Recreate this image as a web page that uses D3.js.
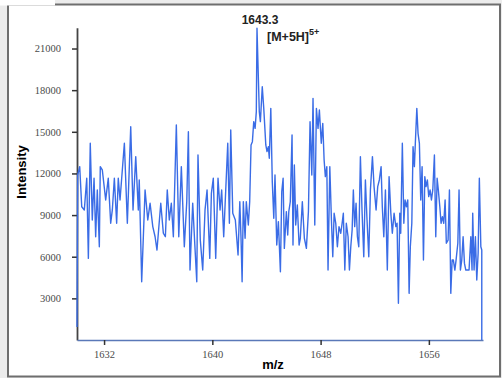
<!DOCTYPE html>
<html>
<head>
<meta charset="utf-8">
<script src="https://cdn.jsdelivr.net/npm/d3@7"></script>
<style>
  html, body { margin: 0; padding: 0; background: #ececec; }
  svg { display: block; }
</style>
</head>
<body>
<div id="chart"></div>
<script>
// m/z positions and intensities
const mz = [
  1630.00, 1630.05, 1630.20, 1630.35, 1630.54, 1630.72, 1630.84, 1630.98, 1631.13, 1631.26,
  1631.38, 1631.50, 1631.65, 1631.72, 1631.87, 1632.12, 1632.31, 1632.49, 1632.61, 1632.76,
  1632.93, 1633.05, 1633.18, 1633.50, 1633.72, 1633.97, 1634.14, 1634.34, 1634.53, 1634.60,
  1634.78, 1635.03, 1635.23, 1635.40, 1635.60, 1635.77, 1635.91, 1636.19, 1636.38, 1636.53,
  1636.67, 1636.82, 1636.97, 1637.12, 1637.34, 1637.52, 1637.71, 1637.93, 1638.11, 1638.23,
  1638.35, 1638.55, 1638.70, 1638.85, 1638.94, 1639.11, 1639.29, 1639.46, 1639.61, 1639.81,
  1639.93, 1640.07, 1640.25, 1640.42, 1640.57, 1640.69, 1640.84, 1640.99, 1641.14, 1641.26,
  1641.36, 1641.51, 1641.70, 1641.90, 1642.03, 1642.12, 1642.20, 1642.29, 1642.42, 1642.51,
  1642.66, 1642.76, 1642.86, 1642.96, 1643.06, 1643.16, 1643.25, 1643.30, 1643.47, 1643.55,
  1643.69, 1643.80, 1643.95, 1644.04, 1644.14, 1644.21, 1644.32, 1644.43, 1644.54, 1644.63,
  1644.76, 1644.88, 1645.03, 1645.13, 1645.23, 1645.32, 1645.47, 1645.57, 1645.65, 1645.76,
  1645.89, 1645.96, 1646.06, 1646.16, 1646.28, 1646.41, 1646.50, 1646.65, 1646.80, 1646.95,
  1647.10, 1647.22, 1647.35, 1647.44, 1647.57, 1647.69, 1647.81, 1647.91, 1648.05, 1648.16,
  1648.26, 1648.35, 1648.46, 1648.55, 1648.68, 1648.80, 1648.90, 1649.00, 1649.12, 1649.24,
  1649.36, 1649.49, 1649.59, 1649.68, 1649.79, 1649.90, 1650.03, 1650.13, 1650.23, 1650.33,
  1650.42, 1650.52, 1650.62, 1650.72, 1650.82, 1650.94, 1651.06, 1651.19, 1651.31, 1651.43,
  1651.56, 1651.68, 1651.83, 1651.95, 1652.10, 1652.22, 1652.34, 1652.47, 1652.56, 1652.67,
  1652.79, 1652.93, 1653.06, 1653.19, 1653.30, 1653.43, 1653.56, 1653.65, 1653.75, 1653.85,
  1653.92, 1654.04, 1654.15, 1654.24, 1654.34, 1654.44, 1654.54, 1654.63, 1654.74, 1654.83,
  1654.93, 1655.00, 1655.11, 1655.20, 1655.30, 1655.40, 1655.50, 1655.60, 1655.70, 1655.79,
  1655.89, 1655.99, 1656.09, 1656.19, 1656.29, 1656.41, 1656.51, 1656.61, 1656.70, 1656.81,
  1656.90, 1657.00, 1657.10, 1657.20, 1657.29, 1657.42, 1657.52, 1657.62, 1657.72, 1657.81,
  1657.92, 1658.01, 1658.14, 1658.23, 1658.33, 1658.43, 1658.53, 1658.63, 1658.73, 1658.85,
  1658.97, 1659.10, 1659.19, 1659.24, 1659.34, 1659.44, 1659.54, 1659.64, 1659.73, 1659.84,
  1659.91, 1659.91
];

const intensity = [
    940, 11890, 12490,  9600,  9370, 11650,  5880, 14170,  8650, 11650,
   7440, 10810,  6720, 12490, 12250, 10090, 11650,  8410,  9370, 11650,
   8410, 11650, 10090, 14170,  8410, 15370,  9370, 13210,  9370, 11530,
   4200, 10810,  8650,  9850,  8170,  7440,  6480,  9850,  7690,  7440,
  10810,  8650,  9850,  7440, 15490,  7440, 12490,  6720,  9960, 15010,
   5040,  9850,  6970,  4200, 13330,  7200,  5040,  9370, 10810,  5880,
  10570, 11650,  5880, 11650,  9370, 10810,  7440, 10810, 14170,  8410,
  15130,  9130,  8650,  6120,  9960,  7330,  4200,  9960,  7330,  9960,
   8290,  9960, 14050, 14290, 15730, 15250, 16450, 22460, 16450, 15730,
  18250, 16690, 14050, 13570, 13930, 13090, 16690, 11410,  8770, 11890,
   6840,  8530,  4920, 10690, 11650,  6600,  9250,  7560,  9250,  9960,
  14770,  6840, 12610,  8290,  9730,  6840,  7330,  9960,  7330,  6600,
   9250, 15730, 11890, 17410,  8290, 16690, 15250, 16570, 14170, 15610,
  12970, 11770, 12490,  5040, 12490,  8650,  6000,  9130,  8410,  6720,
   8170,  7690,  8410,  9130,  5040,  8410,  7440,  5040,  6720,  7930,
  10810,  8170,  9850,  7440,  6720, 13210,  9370,  6000, 11530,  8650,
   6000, 10810, 13210, 11050,  9370, 11050, 11530, 12490,  9600,  7440,
  10810,  5040, 11770,  9130,  7690,  9130,  8170,  8410,  2640,  9130,
   7690, 14170,  8410, 10090,  9600, 10090,  3360,  6720,  8410, 13930,
  12490, 14170, 16690, 14890, 14170, 10090, 12490,  5760, 11770, 11050,
  11530, 10330, 10810, 10090, 10810, 13330,  7440, 11650, 10810,  9600,
   8410,  8890,  8410, 10090,  6970,  7200, 10810,  3360,  5760,  5760,
   5040,  5760,  6970, 10810,  5040,  5760,  7440,  5520,  5040,  5040,
   5040,  7440,  5040,  9130,  5040,  7440,  4320,  6250, 11650,  6720,
   6480,     0
];

const xTicks = [1632, 1640, 1648, 1656];
const yTicks = [3000, 6000, 9000, 12000, 15000, 18000, 21000];
const xDomain = [1630, 1660];
const yDomain = [0, 22500];

const peakLabel = "1643.3";
const ionLabel = "[M+5H]";
const ionCharge = "5+";

const width = 502, height = 378;
const plot = {left: 77, right: 483, top: 27.7, bottom: 340};
const serif = "'Liberation Serif', 'DejaVu Serif', serif";
const sans = "'Liberation Sans', Arial, sans-serif";

const svg = d3.select("#chart")
    .append("svg")
    .attr("width", width)
    .attr("height", height);

// frame
svg.append("rect")
    .attr("x", 8).attr("y", 4.5)
    .attr("width", 492).attr("height", 372)
    .attr("fill", "#fff")
    .attr("stroke", "#6e6e6e")
    .attr("stroke-width", 2);

svg.append("rect")
    .attr("x", 0).attr("y", 0)
    .attr("width", 55).attr("height", 5.5)
    .attr("fill", "#fff");

const x = d3.scaleLinear().domain(xDomain).range([plot.left, plot.right]);
const y = d3.scaleLinear().domain(yDomain).range([plot.bottom, plot.top]);

// axes
const yAxis = svg.append("g")
    .attr("transform", `translate(${plot.left},0)`)
    .call(d3.axisLeft(y).tickValues(yTicks).tickSize(5).tickSizeOuter(0)
        .tickPadding(11).tickFormat(d3.format("d")));

const xAxis = svg.append("g")
    .attr("transform", `translate(0,${plot.bottom})`)
    .call(d3.axisBottom(x).tickValues(xTicks).tickSize(5).tickSizeOuter(0)
        .tickPadding(6).tickFormat(d3.format("d")));

[yAxis, xAxis].forEach(g => {
    g.attr("font-family", serif).attr("font-size", 10.5);
    g.selectAll("text").attr("fill", "#4a4a4a");
    g.selectAll(".tick line").attr("stroke", "#333").attr("stroke-width", 1.5);
});
yAxis.select(".domain").attr("stroke", "#444").attr("stroke-width", 1.8);
xAxis.select(".domain").attr("stroke", "#5a78b8").attr("stroke-width", 1.5);

// spectrum line
const points = mz.map((m, i) => [m, intensity[i]]);
const line = d3.line()
    .x(d => x(d[0]))
    .y(d => y(d[1]));

svg.append("path")
    .datum(points)
    .attr("fill", "none")
    .attr("stroke", "#3a6ce6")
    .attr("stroke-width", 1.4)
    .attr("stroke-linejoin", "round")
    .attr("d", line);

// axis titles
svg.append("text")
    .attr("transform", "translate(26,172) rotate(-90)")
    .attr("text-anchor", "middle")
    .style("font-family", sans)
    .style("font-size", "13px")
    .style("font-weight", "bold")
    .text("Intensity");

svg.append("text")
    .attr("x", 273)
    .attr("y", 369)
    .attr("text-anchor", "middle")
    .style("font-family", sans)
    .style("font-size", "13px")
    .style("font-weight", "bold")
    .text("m/z");

// peak annotation
svg.append("text")
    .attr("x", 260)
    .attr("y", 23.5)
    .attr("text-anchor", "middle")
    .style("font-family", sans)
    .style("font-size", "12px")
    .style("font-weight", "bold")
    .attr("fill", "#222")
    .text(peakLabel);

const ion = svg.append("text")
    .attr("x", 267)
    .attr("y", 41)
    .style("font-family", sans)
    .style("font-size", "12.5px")
    .style("font-weight", "bold")
    .attr("fill", "#222")
    .text(ionLabel);
ion.append("tspan")
    .attr("dy", -6)
    .style("font-size", "9px")
    .text(ionCharge);
</script>
</body>
</html>
